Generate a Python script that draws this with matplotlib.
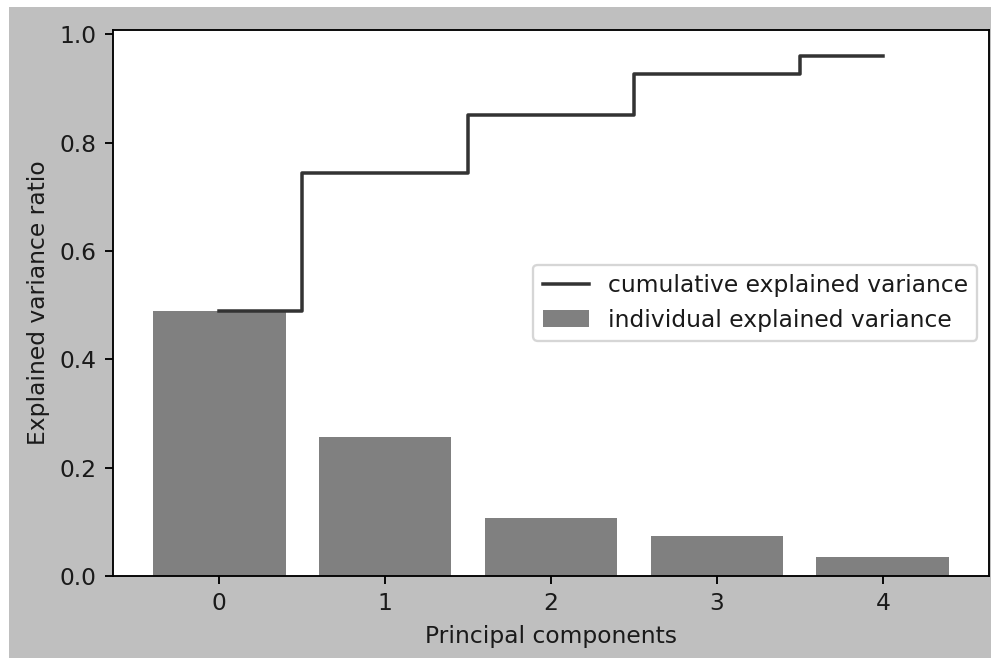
import matplotlib
matplotlib.use("Agg")
import matplotlib.pyplot as plt
from matplotlib.patches import Rectangle

components = [0, 1, 2, 3, 4]
individual = [0.489, 0.256, 0.108, 0.074, 0.036]
cumulative = [0.490, 0.744, 0.852, 0.926, 0.961]

DPI = 168
W, H = 991, 658
fig = plt.figure(figsize=(W / DPI, H / DPI), dpi=DPI, facecolor="white")
# silver background (screenshot offset leaves a thin white strip top/left)
bg = Rectangle((9 / W, 0), 1 - 9 / W, 1 - 7 / H,
               transform=fig.transFigure, facecolor="#bfbfbf",
               edgecolor="none", zorder=-10)
fig.add_artist(bg)

ax = fig.add_axes([113 / W, (H - 576) / H, (989 - 113) / W, (576 - 29.5) / H])
ax.set_zorder(1)
bars = ax.bar(components, individual, width=0.8, color="gray",
              label="individual explained variance")
line, = ax.step(components, cumulative, where="mid", color="#333333",
                label="cumulative explained variance")
ax.set_ylabel("Explained variance ratio", color="#1a1a1a")
ax.set_xlabel("Principal components", color="#1a1a1a")
ax.set_yticks([0.0, 0.2, 0.4, 0.6, 0.8, 1.0])
ax.tick_params(labelcolor="#1a1a1a")
leg = ax.legend(handles=[line, bars], loc="center right")
for t in leg.get_texts():
    t.set_color("#1a1a1a")

fig.savefig("out.png", dpi=DPI, facecolor=fig.get_facecolor())
